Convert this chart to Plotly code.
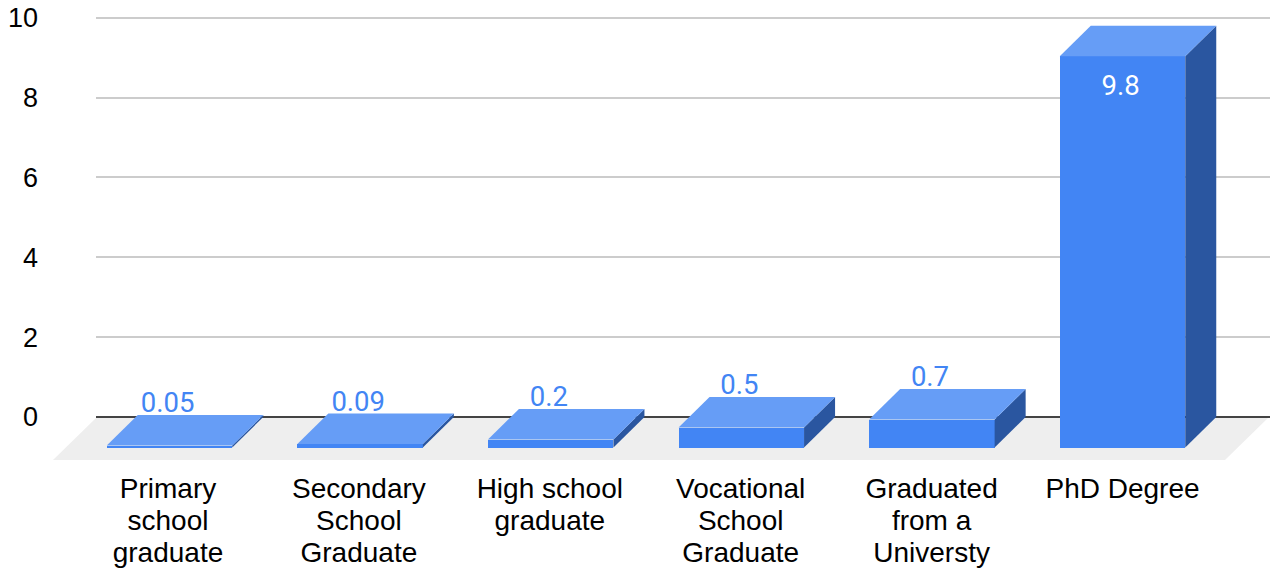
import plotly.graph_objects as go

categories = [
    ["Primary", "school", "graduate"],
    ["Secondary", "School", "Graduate"],
    ["High school", "graduate"],
    ["Vocational", "School", "Graduate"],
    ["Graduated", "from a", "Universty"],
    ["PhD Degree"],
]
values = [0.05, 0.09, 0.2, 0.5, 0.7, 9.8]
labels = ["0.05", "0.09", "0.2", "0.5", "0.7", "9.8"]
y_ticks = [0, 2, 4, 6, 8, 10]

FRONT, TOP, SIDE = "#4285F4", "#669DF6", "#2A56A0"
W, H = 1270, 569
PX_X = 190.6      # pixels per category
PX_Y = 39.93      # pixels per value unit
X0_PX = 169.5     # pixel of category 0
Y0_PX = 417       # pixel of value 0
BAR_W = 125.5 / PX_X
DX = 31 / PX_X    # oblique depth
DY = 30.5 / PX_Y

y_range = [(Y0_PX - H) / PX_Y, Y0_PX / PX_Y]
x_range = [(0 - X0_PX) / PX_X, (W - X0_PX) / PX_X]
xp = lambda p: (p - X0_PX) / PX_X
yp = lambda p: (Y0_PX - p) / PX_Y

fig = go.Figure()
# carrier for the value axis and its gridlines
fig.add_trace(go.Scatter(x=[], y=[], xaxis="x", yaxis="y", showlegend=False))

# front faces
fig.add_trace(go.Bar(
    x=list(range(len(values))), y=values, base=[-DY] * len(values), width=BAR_W,
    marker=dict(color=FRONT, line=dict(width=0)),
    xaxis="x2", yaxis="y2", showlegend=False))

# top and side faces
for i, v in enumerate(values):
    l, r = i - BAR_W / 2, i + BAR_W / 2
    fig.add_trace(go.Scatter(
        x=[r, r + DX, r + DX, r, r], y=[-DY, 0, v, v - DY, -DY],
        mode="lines", fill="toself", fillcolor=SIDE, line=dict(width=0),
        xaxis="x2", yaxis="y2", hoverinfo="skip", showlegend=False))
    fig.add_trace(go.Scatter(
        x=[l, l + DX, r + DX, r, l], y=[v - DY, v, v, v - DY, v - DY],
        mode="lines", fill="toself", fillcolor=TOP, line=dict(width=0),
        xaxis="x2", yaxis="y2", hoverinfo="skip", showlegend=False))

# value labels: blue with a white halo above the short bars, plain white inside the tall one
for inside in (False, True):
    idx = [i for i, v in enumerate(values) if (v > 5) == inside]
    fig.add_trace(go.Scatter(
        x=[i - 0.01 for i in idx],
        y=[values[i] - DY + (-32 if inside else 40) / PX_Y for i in idx],
        text=[labels[i] for i in idx], mode="text", textposition="middle center",
        textfont=dict(family="Roboto", size=27.5,
                      color="#FFFFFF" if inside else FRONT,
                      shadow="none" if inside else "0 0 2px #FFFFFF"),
        xaxis="x2", yaxis="y2", hoverinfo="skip", showlegend=False, cliponaxis=False))

# category labels, one text per line
cx, cy, ct = [], [], []
for i, lines in enumerate(categories):
    for j, line in enumerate(lines):
        cx.append(i + (0.3 * i - 1.5) / PX_X)
        cy.append(yp(491 + 32 * j))
        ct.append(line)
fig.add_trace(go.Scatter(
    x=cx, y=cy, text=ct, mode="text", textposition="middle center",
    textfont=dict(family="Liberation Sans", size=28, color="#000000"),
    xaxis="x2", yaxis="y2", hoverinfo="skip", showlegend=False, cliponaxis=False))

# floor, under the bars
floor_x = [xp(53), xp(96), xp(1268), xp(1225)]
floor_y = [yp(460), yp(418), yp(418), yp(460)]
fig.add_shape(type="path", xref="x2", yref="y2", layer="below",
              path="M " + " L ".join(f"{a},{b}" for a, b in zip(floor_x, floor_y)) + " Z",
              fillcolor="#EEEEEE", line=dict(width=0))

fig.update_layout(
    width=W, height=H, margin=dict(l=0, r=0, t=0, b=0, pad=0),
    paper_bgcolor="#FFFFFF", plot_bgcolor="rgba(0,0,0,0)", showlegend=False,
    bargap=0,
    xaxis=dict(domain=[96 / W, 1], range=[0, 1], visible=False),
    yaxis=dict(domain=[0, 1], range=y_range, tickvals=y_ticks,
               ticktext=[str(t) for t in y_ticks],
               showgrid=True, gridcolor="#CCCCCC", gridwidth=2,
               zeroline=True, zerolinecolor="#444444", zerolinewidth=2,
               showline=False, ticks="", ticklabelstandoff=57,
               tickfont=dict(family="Liberation Sans", size=27, color="#000000")),
    xaxis2=dict(domain=[0, 1], range=x_range, visible=False, anchor="y2"),
    yaxis2=dict(domain=[0, 1], range=y_range, visible=False, anchor="x2"),
)

fig.write_html("out.html", config=dict(displayModeBar=False),
               post_script="document.body.style.margin='0';")
